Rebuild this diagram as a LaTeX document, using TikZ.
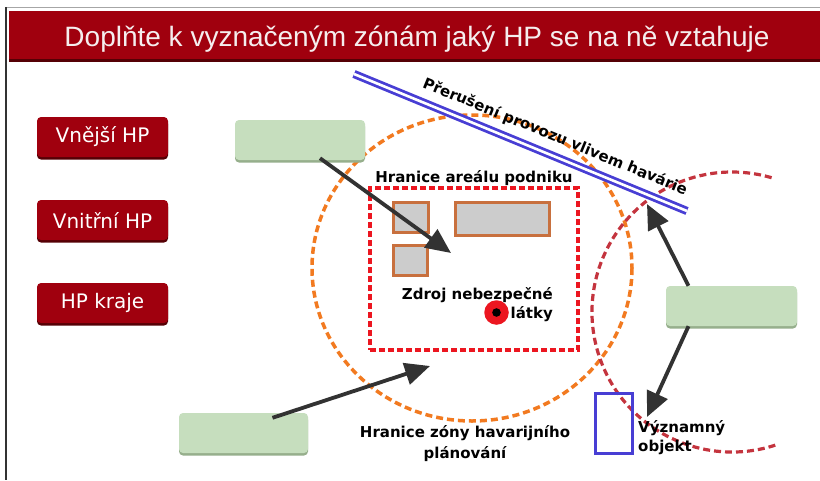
\documentclass[tikz,border=0pt]{standalone}
\usepackage{fontspec}
\setmainfont{DejaVu Sans}
\newfontfamily\titlefont{Liberation Sans}
\usetikzlibrary{arrows.meta,calc,shadows}
\definecolor{barred}{RGB}{160,0,14}
\definecolor{bardark}{RGB}{85,0,5}
\definecolor{boxgreen}{RGB}{198,222,190}
\definecolor{boxgreendark}{RGB}{150,175,140}
\definecolor{zoneorange}{RGB}{242,122,32}
\definecolor{arealred}{RGB}{236,22,32}
\definecolor{brick}{RGB}{196,52,62}
\definecolor{lineblue}{RGB}{72,62,212}
\definecolor{bldgfill}{RGB}{204,204,204}
\definecolor{bldgedge}{RGB}{200,112,62}
\definecolor{arrowgrey}{RGB}{50,50,50}
\definecolor{titletext}{RGB}{245,238,238}
\begin{document}
\begin{tikzpicture}[x=1pt,y=-1pt,
  btn/.style={fill=barred, rounded corners=4pt, minimum width=131pt, minimum height=40pt,
    text=white, font=\fontsize{20}{24}\selectfont, inner sep=0pt,
    drop shadow={shadow xshift=0pt,shadow yshift=-2.5pt,opacity=1,fill=bardark}},
  gbox/.style={fill=boxgreen, rounded corners=4pt, minimum width=130pt, minimum height=40pt, inner sep=0pt,
    drop shadow={shadow xshift=0pt,shadow yshift=-2.5pt,opacity=1,fill=boxgreendark}},
  lbl/.style={font=\fontsize{15}{20}\selectfont\bfseries, text=black, inner sep=0pt},
  bldg/.style={fill=bldgfill, draw=bldgedge, line width=3pt},
  arr/.style={draw=arrowgrey, line width=3.8pt, -{Triangle[length=25pt,width=22pt]}},
]
\useasboundingbox (0,0) rectangle (820,480);
\fill[white] (0,0) rectangle (820,480);
% frame
\draw[gray!70, line width=1pt] (5,7) -- (820,7);
\draw[black!80, line width=1.2pt] (6,7) -- (6,480);
% title bar
\node[fill=barred, minimum width=811pt, minimum height=48pt, inner sep=0pt,
  drop shadow={shadow xshift=0pt,shadow yshift=-3pt,opacity=1,fill=bardark}] (bar) at (414.5,35) {};
\node[anchor=base, text=titletext, font=\titlefont\fontsize{28}{32}\selectfont, inner sep=0pt] (title) at (417,46)
  {Doplňte k vyznačeným zónám jaký HP se na ně vztahuje};
% left buttons
\node[btn] (b1) at (102.5,137) {Vnější HP};
\node[btn] (b2) at (102.5,220) {Vnitřní HP};
\node[btn] (b3) at (102.5,303) {HP kraje};
% zones
\draw[zoneorange, line width=3.5pt, dash pattern=on 7pt off 4pt] (472,268) ellipse [x radius=160, y radius=153];
\node[draw=arealred, line width=3.5pt, dash pattern=on 6pt off 3pt, minimum width=208pt, minimum height=162pt, inner sep=0pt] (areal) at (474,269) {};
\draw[brick, line width=3.2pt, dash pattern=on 7pt off 4pt] (732,312) ++(72:140) arc[start angle=72, end angle=288, radius=140];
% buildings
\node[bldg, minimum width=35pt, minimum height=30pt, inner sep=0pt] (h1) at (410.5,217) {};
\node[bldg, minimum width=94pt, minimum height=33pt, inner sep=0pt] (h2) at (502,218.5) {};
\node[bldg, minimum width=34pt, minimum height=30pt, inner sep=0pt] (h3) at (410,260) {};
% source
\node[circle, fill=arealred, minimum size=24.5pt, inner sep=0pt] (src) at (496.5,312.5) {};
\node[circle, fill=black, minimum size=8.6pt, inner sep=0pt] (srcdot) at (src.center) {};
% blue double line
\coordinate (bl1) at (354,74);
\coordinate (bl2) at (687,211);
\draw[lineblue, line width=2.8pt, double=white, double distance=2.6pt] (bl1) -- (bl2);
\node[lbl, rotate=-22.3] (blabel) at (555,137) {Přerušení provozu vlivem havárie};
% significant object
\node[draw=lineblue, line width=3pt, minimum width=37pt, minimum height=60pt, inner sep=0pt] (obj) at (613.5,423) {};
% labels
\node[lbl] (lareal) at (474,178) {Hranice areálu podniku};
\node[lbl, align=right, anchor=north east, font=\fontsize{15}{19.5}\selectfont\bfseries] (lsrc) at (553,287) {Zdroj nebezpečné\\látky};
\node[lbl, align=center, font=\fontsize{15}{21}\selectfont\bfseries, anchor=north] (lzone) at (465,425) {Hranice zóny havarijního\\plánování};
\node[lbl, align=left, anchor=north west, font=\fontsize{15}{19}\selectfont\bfseries] (lobj) at (638,420) {Významný\\objekt};
% green boxes
\node[gbox] (g1) at (300,140) {};
\node[gbox, minimum width=131pt] (g2) at (731.5,306) {};
\node[gbox, minimum width=129pt] (g3) at (243.5,433) {};
% arrows
\coordinate (t1) at (451,253);
\coordinate (t2) at (430,366);
\coordinate (t3) at (647,204);
\coordinate (t4) at (647,417);
\draw[arr] ($(g1.south)+(20,-2)$) -- (t1);
\draw[arr] ($(g3.north)+(29,5)$) -- (t2);
\draw[arr] ($(g2.north)+(-43,0)$) -- (t3);
\draw[arr] ($(g2.south)+(-43,0)$) -- (t4);
\end{tikzpicture}
\end{document}
